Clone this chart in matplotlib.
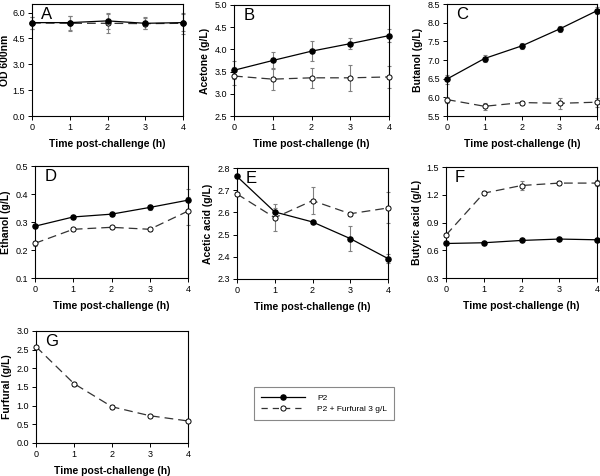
import matplotlib
matplotlib.use("Agg")
import matplotlib.pyplot as plt
from matplotlib.lines import Line2D

plt.rcParams['font.family'] = ['Liberation Sans', 'DejaVu Sans']

time = [0, 1, 2, 3, 4]

od_p2 = [5.42, 5.42, 5.52, 5.38, 5.42]
od_p2_err = [0.35, 0.4, 0.45, 0.35, 0.5]
od_fur = [5.4, 5.38, 5.38, 5.36, 5.38]
od_fur_err = [0.35, 0.45, 0.55, 0.3, 0.6]

acetone_p2 = [3.53, 3.75, 3.96, 4.13, 4.31]
acetone_p2_err = [0.2, 0.19, 0.22, 0.12, 0.15]
acetone_fur = [3.40, 3.33, 3.36, 3.36, 3.38]
acetone_fur_err = [0.2, 0.24, 0.22, 0.29, 0.24]

butanol_p2 = [6.49, 7.04, 7.38, 7.83, 8.32]
butanol_p2_err = [0.12, 0.1, 0.08, 0.08, 0.1]
butanol_fur = [5.94, 5.76, 5.86, 5.84, 5.87]
butanol_fur_err = [0.08, 0.1, 0.05, 0.14, 0.12]

ethanol_p2 = [0.285, 0.318, 0.328, 0.352, 0.378]
ethanol_p2_err = [0.005, 0.005, 0.005, 0.008, 0.04]
ethanol_fur = [0.224, 0.274, 0.281, 0.274, 0.339]
ethanol_fur_err = [0.008, 0.005, 0.005, 0.005, 0.05]

acetic_p2 = [2.762, 2.602, 2.557, 2.482, 2.392]
acetic_p2_err = [0.005, 0.02, 0.005, 0.055, 0.02]
acetic_fur = [2.683, 2.576, 2.653, 2.594, 2.62]
acetic_fur_err = [0.01, 0.06, 0.06, 0.01, 0.07]

butyric_p2 = [0.673, 0.681, 0.706, 0.721, 0.713]
butyric_p2_err = [0.01, 0.01, 0.01, 0.01, 0.01]
butyric_fur = [0.764, 1.217, 1.30, 1.326, 1.326]
butyric_fur_err = [0.02, 0.02, 0.05, 0.02, 0.03]

furfural_fur = [2.58, 1.59, 0.97, 0.73, 0.59]
furfural_fur_err = [0.03, 0.05, 0.05, 0.03, 0.03]

xlabel = "Time post-challenge (h)"

fig = plt.figure(figsize=(6.0, 4.76), dpi=100)

def px_axes(l, r, t, b):
    W, H = 600, 476
    return fig.add_axes([l / W, 1 - b / H, (r - l) / W, (b - t) / H])

DASH = (0, (7, 4))
ERRC = '#808080'
MS = 3.7

def draw(ax, letter, ylabel, ylim, yticks, yfmt, p2=None, p2e=None, fur=None, fure=None):
    if fur is not None:
        ax.errorbar(time, fur, yerr=fure, fmt='none', ecolor=ERRC, elinewidth=0.8,
                    capsize=1.5, capthick=0.8, zorder=2, clip_on=False)
        ax.plot(time, fur, color='#333333', lw=0.9, linestyle=DASH, marker='o',
                markersize=MS, markerfacecolor='white', markeredgecolor='black',
                markeredgewidth=0.7, zorder=3, clip_on=False)
    if p2 is not None:
        ax.errorbar(time, p2, yerr=p2e, fmt='none', ecolor=ERRC, elinewidth=0.8,
                    capsize=1.5, capthick=0.8, zorder=2, clip_on=False)
        ax.plot(time, p2, color='black', lw=0.9, linestyle='-', marker='o',
                markersize=MS, markerfacecolor='black', markeredgecolor='black',
                zorder=4, clip_on=False)
    ax.set_xlim(0, 4)
    ax.set_ylim(*ylim)
    ax.set_xticks(time)
    ax.set_yticks(yticks)
    ax.set_yticklabels([yfmt.format(v) for v in yticks])
    ax.tick_params(direction='out', length=3, width=0.7, labelsize=6.5, pad=2)
    for s in ax.spines.values():
        s.set_linewidth(0.8)
    ax.set_xlabel(xlabel, fontsize=7.5, fontweight='bold', labelpad=5)
    ax.set_ylabel(ylabel, fontsize=7.5, fontweight='bold', labelpad=3)
    ax.text(0.06, 0.97, letter, transform=ax.transAxes, fontsize=12,
            va='top', ha='left')

axA = px_axes(32, 183, 4, 116)
draw(axA, 'A', 'OD 600nm', (0, 6.5), [0.0, 1.5, 3.0, 4.5, 6.0], '{:.1f}',
     od_p2, od_p2_err, od_fur, od_fur_err)
axA.yaxis.labelpad = 1.5

axB = px_axes(234, 389, 5, 116)
draw(axB, 'B', 'Acetone (g/L)', (2.5, 5.0), [2.5, 3.0, 3.5, 4.0, 4.5, 5.0], '{:.1f}',
     acetone_p2, acetone_p2_err, acetone_fur, acetone_fur_err)

axC = px_axes(447, 597, 4, 116)
draw(axC, 'C', 'Butanol (g/L)', (5.5, 8.5), [5.5, 6.0, 6.5, 7.0, 7.5, 8.0, 8.5], '{:.1f}',
     butanol_p2, butanol_p2_err, butanol_fur, butanol_fur_err)

axD = px_axes(35, 188, 166, 278)
draw(axD, 'D', 'Ethanol (g/L)', (0.1, 0.5), [0.1, 0.2, 0.3, 0.4, 0.5], '{:.1f}',
     ethanol_p2, ethanol_p2_err, ethanol_fur, ethanol_fur_err)

axE = px_axes(237, 388, 168, 279)
draw(axE, 'E', 'Acetic acid (g/L)', (2.3, 2.8), [2.3, 2.4, 2.5, 2.6, 2.7, 2.8], '{:.1f}',
     acetic_p2, acetic_p2_err, acetic_fur, acetic_fur_err)

axF = px_axes(446, 597, 167, 278)
draw(axF, 'F', 'Butyric acid (g/L)', (0.3, 1.5), [0.3, 0.6, 0.9, 1.2, 1.5], '{:.1f}',
     butyric_p2, butyric_p2_err, butyric_fur, butyric_fur_err)

axG = px_axes(36, 188, 331, 443)
draw(axG, 'G', 'Furfural (g/L)', (0.0, 3.0), [0.0, 0.5, 1.0, 1.5, 2.0, 2.5, 3.0], '{:.1f}',
     None, None, furfural_fur, furfural_fur_err)

h1 = Line2D([], [], color='black', lw=0.9, marker='o', markersize=MS,
            markerfacecolor='black')
h2 = Line2D([], [], color='#333333', lw=0.9, linestyle=(0, (5, 4)), marker='o', markersize=MS,
            markerfacecolor='white', markeredgecolor='black', markeredgewidth=0.7)
leg = fig.legend([h1, h2], ['P2', 'P2 + Furfural 3 g/L'], loc='center',
                 bbox_to_anchor=(324 / 600, 1 - 403.5 / 476), fontsize=6,
                 handlelength=5.3, handletextpad=1.4, fancybox=False,
                 edgecolor='#888888', framealpha=1, borderpad=0.9, labelspacing=0.35)
leg.get_frame().set_linewidth(0.8)

fig.savefig('out.png', dpi=100)
